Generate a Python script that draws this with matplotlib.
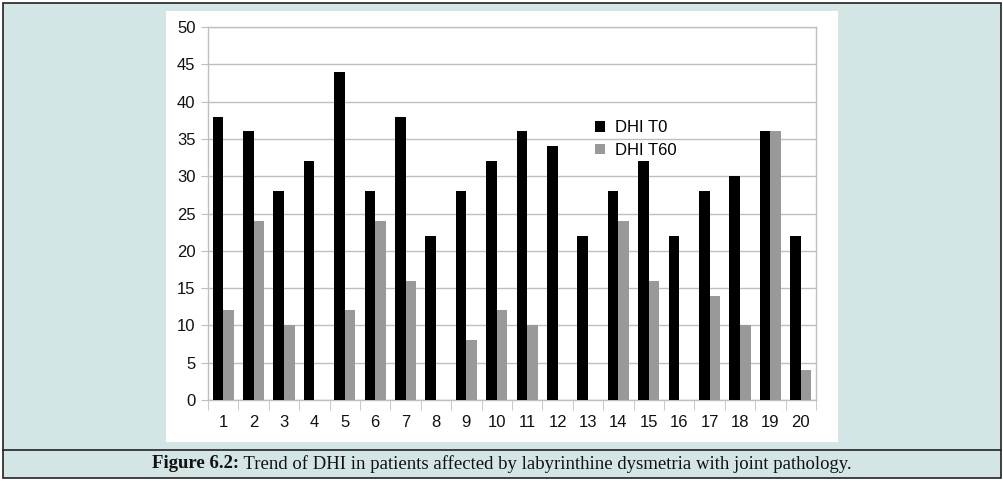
import matplotlib
matplotlib.use("Agg")
import matplotlib.pyplot as plt
from matplotlib.patches import Rectangle
import numpy as np

categories = [str(i) for i in range(1, 21)]
dhi_t0 = [38, 36, 28, 32, 44, 28, 38, 22, 28, 32, 36, 34, 22, 28, 32, 22, 28, 30, 36, 22]
dhi_t60 = [12, 24, 10, 0, 12, 24, 16, 0, 8, 12, 10, 0, 0, 24, 16, 0, 14, 10, 36, 4]
yticks = list(range(0, 51, 5))

W, H = 1004, 484
fig = plt.figure(figsize=(W / 100, H / 100), dpi=100)
fig.patch.set_facecolor("white")

def px(x0, y0, x1, y1, **kw):
    r = Rectangle((x0 / W, 1 - y1 / H), (x1 - x0) / W, (y1 - y0) / H,
                  transform=fig.transFigure, **kw)
    fig.patches.append(r)

teal = "#d3e6e5"
# outer frame
px(3, 3, 1001, 478, facecolor=teal, edgecolor="#222222", linewidth=1.2, zorder=0)
# white chart area
px(166, 11, 838, 442, facecolor="white", edgecolor="none", zorder=1)
# caption line
fig.add_artist(plt.Line2D([3 / W, 1001 / W], [1 - 450 / H, 1 - 450 / H],
                          transform=fig.transFigure, color="#222222", linewidth=1.2))

ax = fig.add_axes([208 / W, 1 - 400 / H, (816 - 208) / W, (400 - 27) / H])
ax.set_zorder(2)
ax.set_facecolor("white")

x = np.arange(len(categories))
bw = 0.35
ax.bar(x - bw / 2, dhi_t0, width=bw, color="black", label="DHI T0", zorder=3)
ax.bar(x + bw / 2, dhi_t60, width=bw, color="#999999", label="DHI T60", zorder=3)

ax.set_xlim(-0.5, len(categories) - 0.5)
ax.set_ylim(0, 50)
ax.set_yticks(yticks)
ax.set_yticklabels([str(t) for t in yticks])
ax.set_xticks(x)
ax.set_xticklabels(categories)
ax.set_xticks(np.arange(-0.5, len(categories), 1), minor=True)

gcol = "#bfbfbf"
ax.yaxis.grid(True, color=gcol, linewidth=1.0, zorder=0)
ax.set_axisbelow(True)
for s in ax.spines.values():
    s.set_color(gcol)
    s.set_linewidth(1.0)

fam = ["Liberation Sans", "DejaVu Sans"]
ax.tick_params(axis="y", length=5, color=gcol, pad=4, labelsize=12, labelcolor="#111111")
ax.tick_params(axis="x", which="major", length=0, pad=11, labelsize=12, labelcolor="#111111")
ax.tick_params(axis="x", which="minor", length=7, color=gcol)
for lab in ax.get_xticklabels() + ax.get_yticklabels():
    lab.set_fontfamily(fam)

leg = ax.legend(loc="upper left", bbox_to_anchor=(0.612, 0.79), frameon=False,
                prop={"family": fam, "size": 12}, handlelength=0.6, handleheight=0.6,
                handletextpad=0.6, labelspacing=0.45)

cap_y = 1 - 464 / H
serif = ["Liberation Serif", "DejaVu Serif"]
t1 = fig.text(0, cap_y, "Figure 6.2:", fontfamily=serif,
              fontweight="bold", fontsize=13.5, va="center", ha="left", color="#111111")
t2 = fig.text(0, cap_y, " Trend of DHI in patients affected by labyrinthine dysmetria with joint pathology.",
              fontfamily=serif, fontsize=13.5, va="center", ha="left", color="#111111")
fig.canvas.draw()
r = fig.canvas.get_renderer()
w1 = t1.get_window_extent(r).width
w2 = t2.get_window_extent(r).width
start = (502 - (w1 + w2) / 2)
t1.set_x(start / W)
t2.set_x((start + w1) / W)

fig.savefig("out.png", dpi=100)
